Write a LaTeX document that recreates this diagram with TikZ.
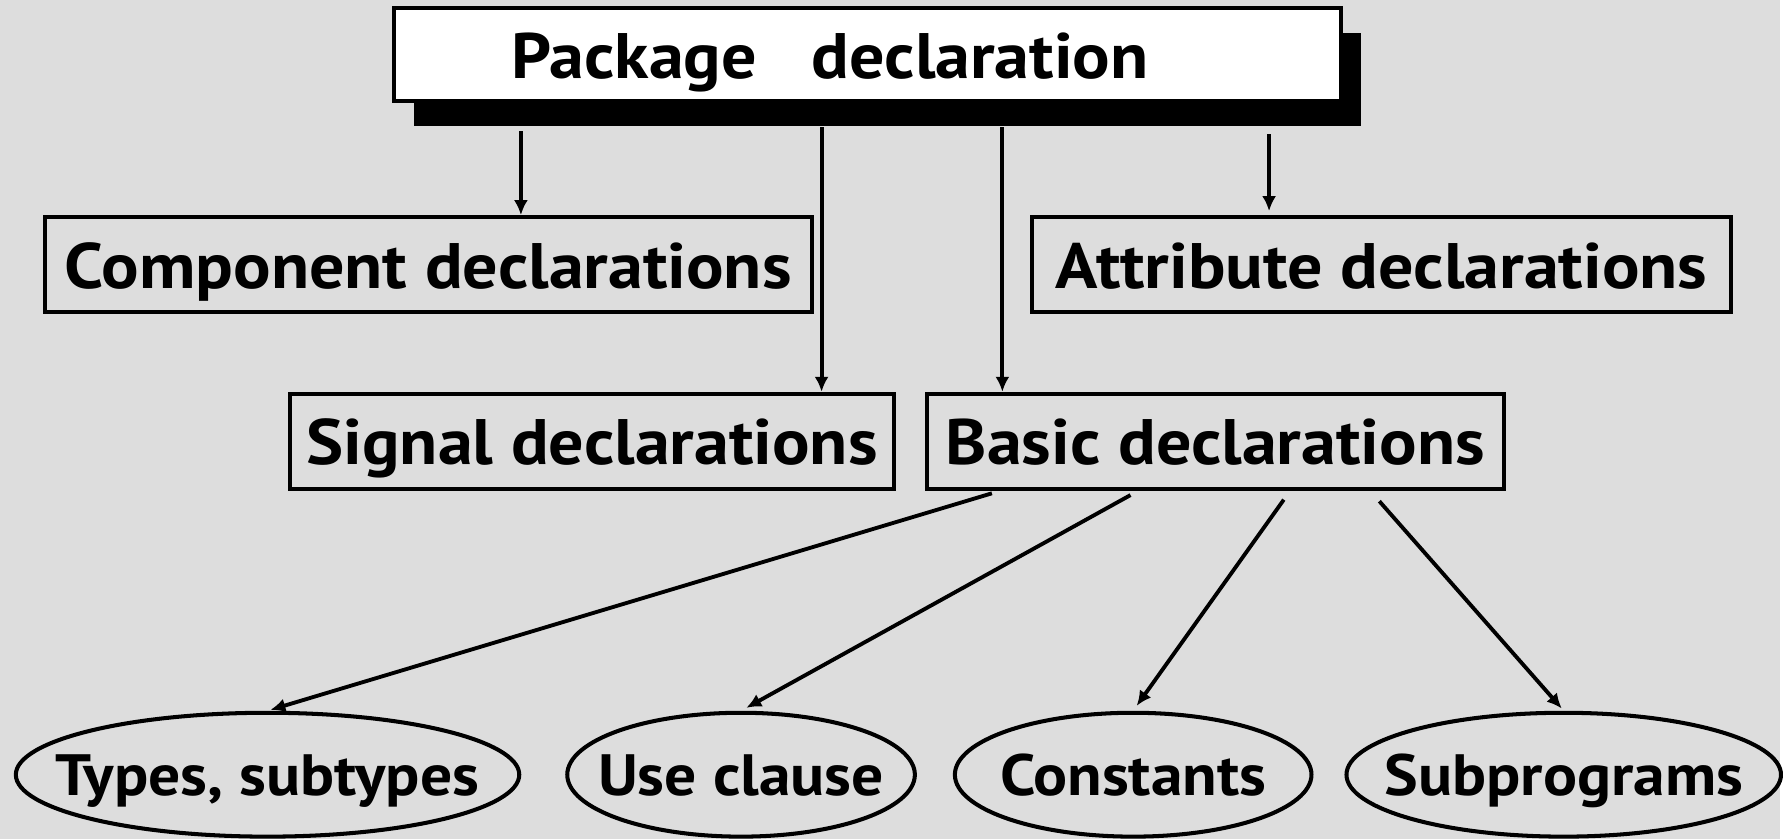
\documentclass[tikz,border=0pt]{standalone}
\usepackage{fontspec}
\setmainfont{PT Sans}[FakeStretch=1.09]
\usepackage{tikz}
\usetikzlibrary{positioning, shapes.geometric, arrows.meta}
\definecolor{slidegray}{RGB}{221,221,221}
\tikzset{
  declbox/.style={
  rectangle,
  draw=black,
  line width=1.15pt,
  fill=slidegray,
  inner xsep=0.16cm,
  minimum height=0.95cm,
  text height=0.47cm,
  text depth=0cm,
  font=\fontsize{18.3}{22}\selectfont\bfseries
  },
itembox/.style={
  ellipse,
  draw=black,
  line width=1.15pt,
  inner sep=0pt,
  minimum height=1.24cm,
  text height=0.42cm,
  text depth=0cm,
  font=\fontsize{16.6}{20}\selectfont\bfseries
},
arrow/.style={
  line width=1.1pt,
  -{Latex[length=0.15cm,width=0.14cm]}
}
        }
\begin{document}
\begin{tikzpicture}[x=0.01cm, y=-0.01cm]

% Background
\fill[slidegray] (0,0) rectangle (1783,840);

% Nodes
\node (pkgshadow) [rectangle, fill=black, minimum width=9.48cm, minimum height=0.93cm] at (889,80) {};
\node (pkg) [declbox, fill=white, minimum width=9.48cm, minimum height=0.93cm] at (869,55) {Package\hspace{0.55cm}declaration\hspace{0.75cm}\mbox{}};

\node (comp) [declbox, minimum width=7.68cm] at (429,265) {Component declarations};
\node (attr) [declbox, minimum width=7.00cm] at (1384,265) {Attribute declarations};

\node (sig) [declbox, minimum width=6.01cm] at (593,442) {Signal declarations};
\node (basic) [declbox, minimum width=5.78cm, right=0.29cm of sig] {Basic declarations};

\node (types) [itembox, minimum width=5.04cm] at (268,776) {\makebox[0pt]{Types, subtypes}};
\node (use) [itembox, minimum width=3.48cm, right=0.44cm of types] {\makebox[0pt]{Use clause}};
\node (const) [itembox, minimum width=3.57cm, right=0.36cm of use] {\makebox[0pt]{Constants}};
\node (subp) [itembox, minimum width=4.35cm, right=0.31cm of const] {\makebox[0pt]{Subprograms}};

% Arrows
\draw [arrow, shorten <=0.04cm] ([xshift=-3.67cm]pkgshadow.south) -- ([xshift=-3.67cm]pkgshadow.south |- comp.north);
\draw [arrow] ([xshift=-0.66cm]pkgshadow.south) -- ([xshift=-0.66cm]pkgshadow.south |- sig.north);
\draw [arrow] ([xshift=1.15cm]pkgshadow.south) -- ([xshift=1.15cm]pkgshadow.south |- basic.north);
\draw [arrow, shorten <=0.07cm, shorten >=0.04cm] ([xshift=3.82cm]pkgshadow.south) -- ([xshift=3.82cm]pkgshadow.south |- attr.north);

\draw [arrow, shorten <=0.09cm, shorten >=0.03cm] ([xshift=-2.15cm]basic.south) -- (types.north);
\draw [arrow, shorten <=0.09cm, shorten >=0.06cm] ([xshift=-0.77cm]basic.south) -- (use.north);
\draw [arrow, shorten <=0.11cm, shorten >=0.06cm] ([xshift=0.75cm]basic.south) -- (const.north);
\draw [arrow, shorten <=0.14cm, shorten >=0.03cm] ([xshift=1.55cm]basic.south) -- (subp.north);

\end{tikzpicture}
\end{document}
